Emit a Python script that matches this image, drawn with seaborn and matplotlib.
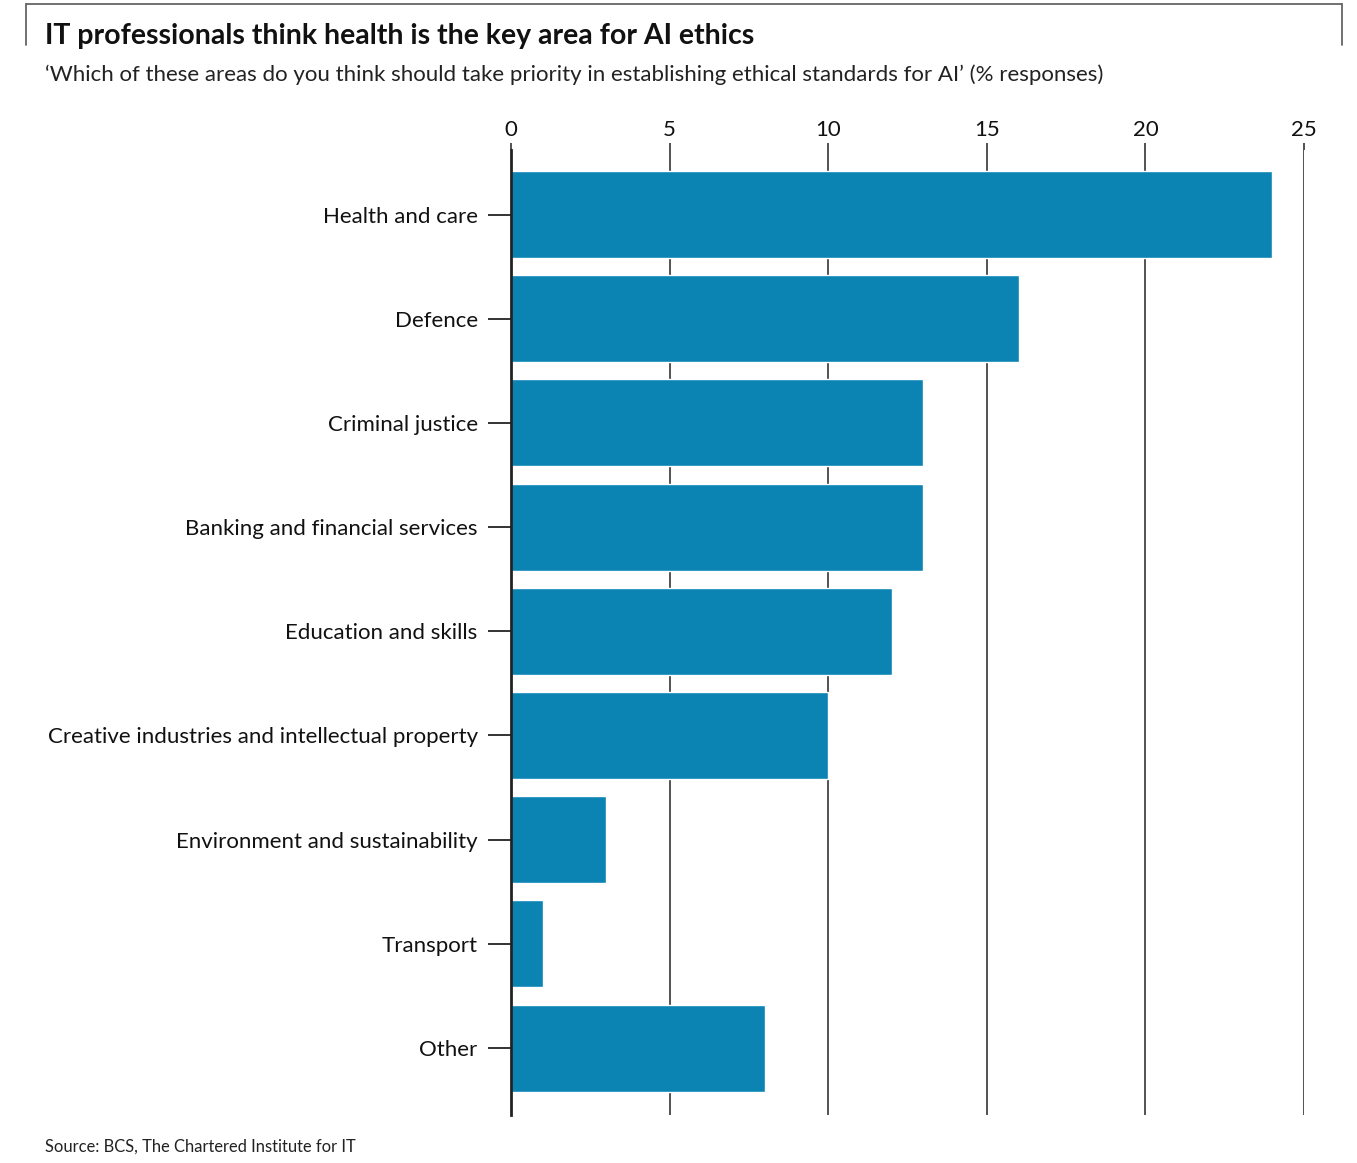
#!/usr/bin/env python3

import matplotlib
matplotlib.use("Agg")
import matplotlib.pyplot as plt
from matplotlib.lines import Line2D
import seaborn as sns
import pandas

categories = [
    "Health and care",
    "Defence",
    "Criminal justice",
    "Banking and financial services",
    "Education and skills",
    "Creative industries and intellectual property",
    "Environment and sustainability",
    "Transport",
    "Other",
]
responses = [24, 16, 13, 13, 12, 10, 3, 1, 8]
xticks = [0, 5, 10, 15, 20, 25]

title = "IT professionals think health is the key area for AI ethics"
subtitle = ("\u2018Which of these areas do you think should take priority in "
            "establishing ethical standards for AI\u2019 (% responses)")
source = "Source: BCS, The Chartered Institute for IT"

sns.set_theme(style="white")
plt.rcParams["font.family"] = ["Lato", "DejaVu Sans"]


def main():
    df = pandas.DataFrame({"area": categories, "pct": responses})

    fig = plt.figure(figsize=(13.57, 11.63), dpi=100)
    ax = fig.add_axes([511 / 1357, 1 - 1115 / 1163, (1304 - 511) / 1357, (1115 - 150) / 1163])

    sns.barplot(data=df, y="area", x="pct", color="#0b84b3", orient="h",
                width=0.835, saturation=1, ax=ax, zorder=3)

    ax.set_xlim(0, 25)
    ax.set_ylim(len(categories) - 1 + 0.643, -0.62)
    ax.set_xticks(xticks)
    ax.set_xlabel("")
    ax.set_ylabel("")

    # Ticks on top, vertical grid lines
    ax.xaxis.tick_top()
    ax.tick_params(axis="x", length=5, width=1.2, color="#333333", pad=2.5,
                   labelsize=16, labelcolor="#111111")
    ax.tick_params(axis="y", length=16.5, width=1.2, color="#111111", pad=7.5,
                   labelsize=16, labelcolor="#111111", left=True)
    ax.grid(axis="x", color="#444444", linewidth=1.3, zorder=1)
    for side in ["top", "right", "bottom"]:
        ax.spines[side].set_visible(False)
    ax.spines["left"].set_color("#222222")
    ax.spines["left"].set_linewidth(2)
    ax.spines["left"].set_zorder(4)

    # Titles
    fig.text(45 / 1357, 1 - 36 / 1163, title, fontsize=20.5, fontweight="bold",
             color="#111111", va="center", ha="left")
    fig.text(45 / 1357, 1 - 75 / 1163, subtitle, fontsize=16,
             color="#222222", va="center", ha="left")
    fig.text(45 / 1357, 1 - 1147 / 1163, source, fontsize=11.9,
             color="#222222", va="center", ha="left")

    # Frame lines at the top
    frame = dict(color="#666666", linewidth=1.3, transform=fig.transFigure)
    fig.add_artist(Line2D([26 / 1357, 1342 / 1357], [1 - 4 / 1163, 1 - 4 / 1163], **frame))
    fig.add_artist(Line2D([26 / 1357, 26 / 1357], [1 - 4 / 1163, 1 - 45 / 1163], **frame))
    fig.add_artist(Line2D([1342 / 1357, 1342 / 1357], [1 - 4 / 1163, 1 - 45 / 1163], **frame))

    fig.savefig("out.png", dpi=100, facecolor="white")


if __name__ == "__main__":
    main()
